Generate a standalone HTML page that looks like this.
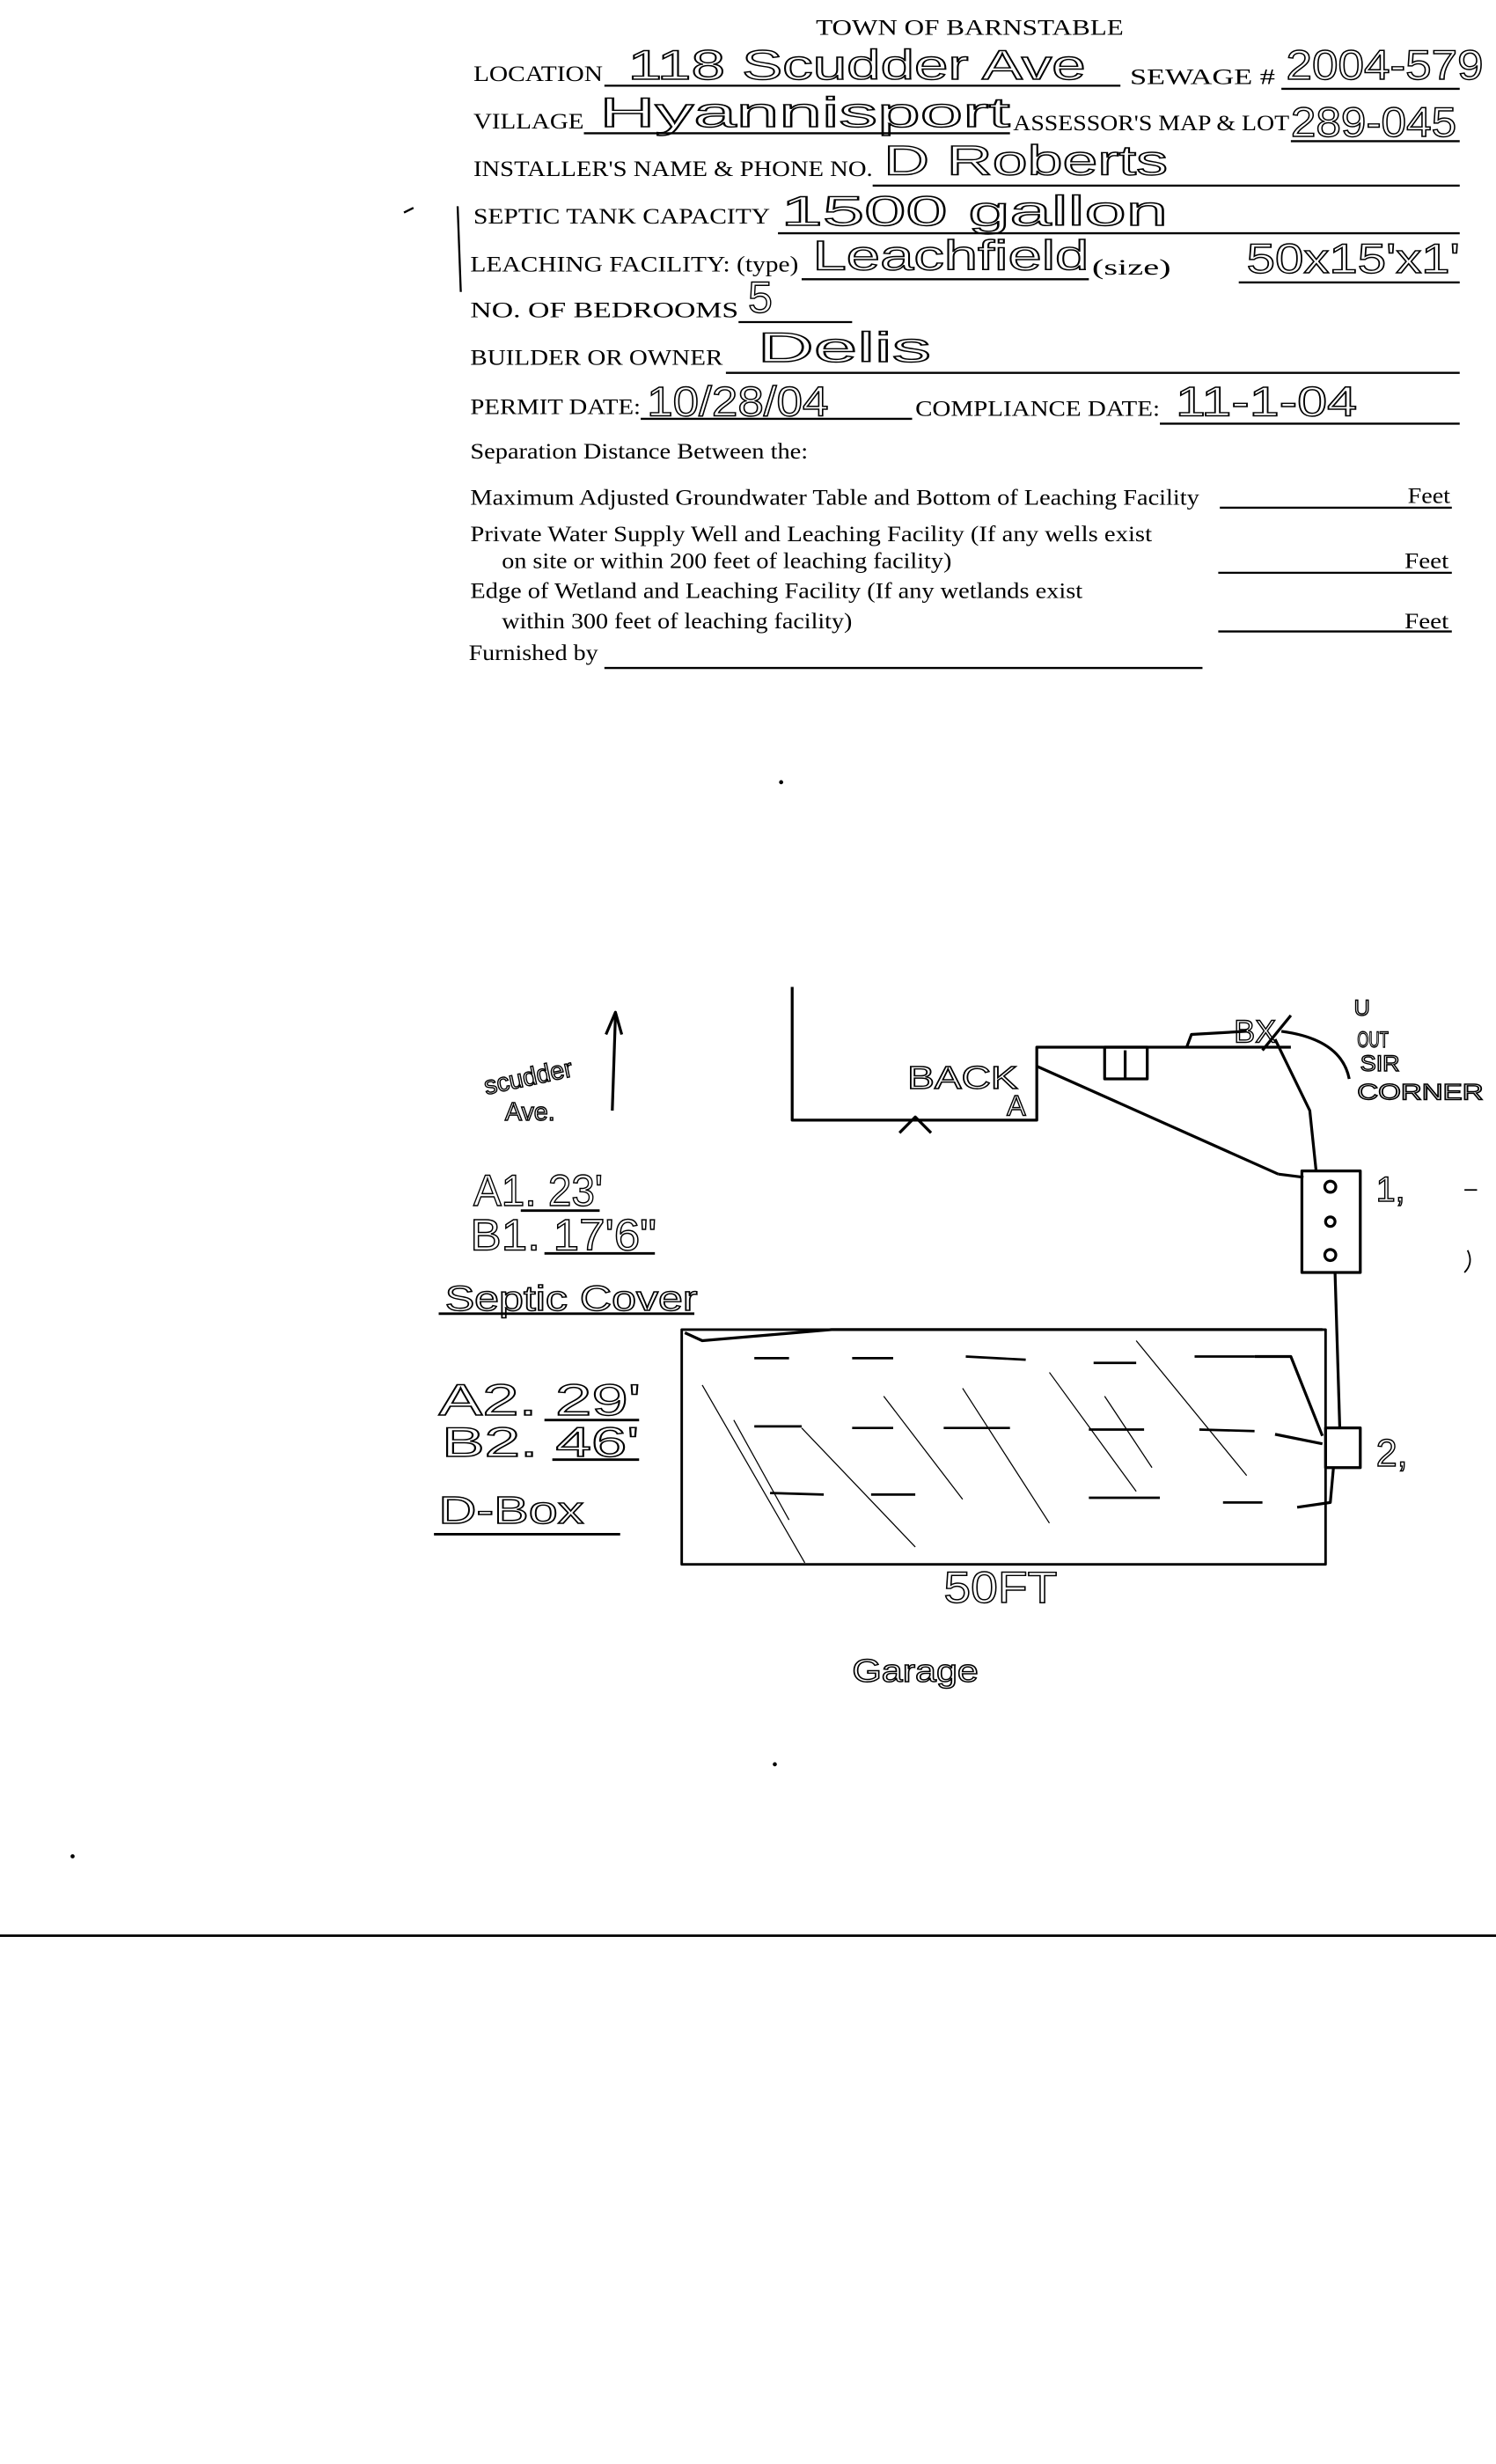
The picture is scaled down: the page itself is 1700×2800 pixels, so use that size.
<!DOCTYPE html>
<html><head><meta charset="utf-8"><style>
html,body{margin:0;padding:0;background:#fff;}
svg{display:block;}
.p{font-family:"Liberation Serif",serif;font-size:14px;fill:#000;}
.h{font-family:"Liberation Sans",sans-serif;fill:none;stroke:#000;stroke-width:0.8;font-size:26px;}
line,polyline,path,rect,circle{stroke:#000;fill:none;}
</style></head><body>
<svg width="1700" height="2800" viewBox="0 0 948 1553" preserveAspectRatio="none" xmlns="http://www.w3.org/2000/svg">
<rect x="0" y="0" width="948" height="1553" style="fill:#fff;stroke:none"/>
<g stroke-width="1.3">
<text class="p" x="517" y="22" textLength="195" lengthAdjust="spacingAndGlyphs">TOWN OF BARNSTABLE</text>
<text class="p" x="300" y="51" textLength="82" lengthAdjust="spacingAndGlyphs">LOCATION</text>
<line x1="383" y1="54" x2="710" y2="54"/>
<text class="h" x="398" y="50" textLength="290" lengthAdjust="spacingAndGlyphs">118 Scudder Ave</text>
<text class="p" x="716" y="53" textLength="92" lengthAdjust="spacingAndGlyphs">SEWAGE #</text>
<line x1="812" y1="56" x2="925" y2="56"/>
<text class="h" x="815" y="50" textLength="125" lengthAdjust="spacingAndGlyphs">2004-579</text>
<text class="p" x="300" y="81" textLength="70" lengthAdjust="spacingAndGlyphs">VILLAGE</text>
<line x1="370" y1="84" x2="640" y2="84"/>
<text class="h" x="380" y="80" textLength="260" lengthAdjust="spacingAndGlyphs">Hyannisport</text>
<text class="p" x="642" y="82" textLength="175" lengthAdjust="spacingAndGlyphs">ASSESSOR'S MAP &amp; LOT</text>
<line x1="818" y1="89" x2="925" y2="89"/>
<text class="h" x="818" y="86" textLength="105" lengthAdjust="spacingAndGlyphs">289-045</text>
<text class="p" x="300" y="111" textLength="253" lengthAdjust="spacingAndGlyphs">INSTALLER'S NAME &amp; PHONE NO.</text>
<line x1="553" y1="117" x2="925" y2="117"/>
<text class="h" x="560" y="110" textLength="180" lengthAdjust="spacingAndGlyphs">D Roberts</text>
<text class="p" x="300" y="141" textLength="188" lengthAdjust="spacingAndGlyphs">SEPTIC TANK CAPACITY</text>
<line x1="493" y1="147" x2="925" y2="147"/>
<text class="h" x="495" y="142" textLength="245" lengthAdjust="spacingAndGlyphs">1500 gallon</text>
<line x1="256" y1="134" x2="262" y2="131"/>
<line x1="290" y1="130" x2="292" y2="184"/>
<text class="p" x="298" y="171" textLength="208" lengthAdjust="spacingAndGlyphs">LEACHING FACILITY: (type)</text>
<line x1="508" y1="176" x2="690" y2="176"/>
<text class="h" x="515" y="170" textLength="175" lengthAdjust="spacingAndGlyphs">Leachfield</text>
<text class="p" x="692" y="173" textLength="50" lengthAdjust="spacingAndGlyphs">(size)</text>
<line x1="785" y1="178" x2="925" y2="178"/>
<text class="h" x="790" y="172" textLength="135" lengthAdjust="spacingAndGlyphs">50x15'x1'</text>
<text class="p" x="298" y="200" textLength="170" lengthAdjust="spacingAndGlyphs">NO. OF BEDROOMS</text>
<line x1="468" y1="203" x2="540" y2="203"/>
<text class="h" x="474" y="197" style="font-size:28px">5</text>
<text class="p" x="298" y="230" textLength="160" lengthAdjust="spacingAndGlyphs">BUILDER OR OWNER</text>
<line x1="460" y1="235" x2="925" y2="235"/>
<text class="h" x="480" y="228" textLength="110" lengthAdjust="spacingAndGlyphs">Delis</text>
<text class="p" x="298" y="261" textLength="108" lengthAdjust="spacingAndGlyphs">PERMIT DATE:</text>
<line x1="406" y1="264" x2="578" y2="264"/>
<text class="h" x="410" y="262" textLength="115" lengthAdjust="spacingAndGlyphs">10/28/04</text>
<text class="p" x="580" y="262" textLength="155" lengthAdjust="spacingAndGlyphs">COMPLIANCE DATE:</text>
<line x1="735" y1="267" x2="925" y2="267"/>
<text class="h" x="745" y="262" textLength="115" lengthAdjust="spacingAndGlyphs">11-1-04</text>
<text class="p" x="298" y="289" textLength="214" lengthAdjust="spacingAndGlyphs">Separation Distance Between the:</text>
<text class="p" x="298" y="318" textLength="462" lengthAdjust="spacingAndGlyphs">Maximum Adjusted Groundwater Table and Bottom of Leaching Facility</text>
<line x1="773" y1="320" x2="920" y2="320"/>
<text class="p" x="892" y="317" textLength="27" lengthAdjust="spacingAndGlyphs">Feet</text>
<text class="p" x="298" y="341" textLength="432" lengthAdjust="spacingAndGlyphs">Private Water Supply Well and Leaching Facility  (If any wells exist</text>
<text class="p" x="318" y="358" textLength="285" lengthAdjust="spacingAndGlyphs">on site or within 200 feet of leaching facility)</text>
<line x1="772" y1="361" x2="920" y2="361"/>
<text class="p" x="890" y="358" textLength="28" lengthAdjust="spacingAndGlyphs">Feet</text>
<text class="p" x="298" y="377" textLength="388" lengthAdjust="spacingAndGlyphs">Edge of Wetland and Leaching Facility (If any wetlands exist</text>
<text class="p" x="318" y="396" textLength="222" lengthAdjust="spacingAndGlyphs">within 300 feet of leaching facility)</text>
<line x1="772" y1="398" x2="920" y2="398"/>
<text class="p" x="890" y="396" textLength="28" lengthAdjust="spacingAndGlyphs">Feet</text>
<text class="p" x="297" y="416" textLength="82" lengthAdjust="spacingAndGlyphs">Furnished by</text>
<line x1="383" y1="421" x2="762" y2="421"/>
</g>

<g stroke-width="1.8" stroke-linejoin="round">
<polyline points="502,622 502,706 657,706 657,660 818,660"/>
<polyline points="570,714 580,704 590,714"/>
<rect x="700" y="660" width="27" height="20"/>
<line x1="713" y1="662" x2="713" y2="680"/>
<polyline points="752,660 755,652 790,650"/>
<line x1="657" y1="672" x2="810" y2="740"/>
<line x1="810" y1="740" x2="826" y2="742"/>
<polyline points="808,655 830,700 834,738"/>
<line x1="800" y1="662" x2="818" y2="640"/>
<path d="M812,650 Q850,655 855,680"/>
<rect x="825" y="738" width="37" height="64"/>
<circle cx="843" cy="748" r="3.5"/><circle cx="843" cy="770" r="3"/><circle cx="843" cy="791" r="3.5"/>
<line x1="846" y1="802" x2="849" y2="900"/>
<rect x="840" y="900" width="22" height="25"/>
<rect x="432" y="838" width="408" height="148" stroke-width="1.6"/>
<polyline points="434,840 445,845 527,838 838,838"/>
<polyline points="795,855 818,855 838,905"/>
<polyline points="808,904 838,910"/>
<polyline points="845,925 843,947 822,950"/>
<g stroke-width="1.5">
<line x1="478" y1="856" x2="500" y2="856"/><line x1="540" y1="856" x2="566" y2="856"/><line x1="612" y1="855" x2="650" y2="857"/><line x1="693" y1="859" x2="720" y2="859"/><line x1="757" y1="855" x2="795" y2="855"/>
<line x1="478" y1="899" x2="508" y2="899"/><line x1="540" y1="900" x2="566" y2="900"/><line x1="598" y1="900" x2="640" y2="900"/><line x1="690" y1="901" x2="725" y2="901"/><line x1="760" y1="901" x2="795" y2="902"/>
<line x1="488" y1="941" x2="522" y2="942"/><line x1="552" y1="942" x2="580" y2="942"/><line x1="690" y1="944" x2="735" y2="944"/><line x1="775" y1="947" x2="800" y2="947"/>
</g>
<g stroke-width="0.7">
<line x1="445" y1="873" x2="510" y2="985"/><line x1="465" y1="895" x2="500" y2="958"/><line x1="508" y1="900" x2="580" y2="975"/><line x1="560" y1="880" x2="610" y2="945"/><line x1="610" y1="875" x2="665" y2="960"/><line x1="665" y1="865" x2="720" y2="940"/><line x1="700" y1="880" x2="730" y2="925"/><line x1="720" y1="845" x2="790" y2="930"/>
</g>
<line x1="0" y1="1220" x2="948" y2="1220" stroke-width="1.5"/>
<line x1="388" y1="700" x2="390" y2="640"/><polyline points="384,652 390,638 394,652"/>
</g>
<g stroke-width="1.6">
<line x1="330" y1="763" x2="380" y2="763"/>
<line x1="345" y1="790" x2="415" y2="790"/>
<line x1="278" y1="828" x2="440" y2="828"/>
<line x1="345" y1="895" x2="405" y2="895"/>
<line x1="350" y1="920" x2="405" y2="920"/>
<line x1="275" y1="967" x2="393" y2="967"/>
</g>
<text class="h" x="575" y="686" style="font-size:20px" textLength="70" lengthAdjust="spacingAndGlyphs">BACK</text>
<text class="h" x="638" y="703" style="font-size:18px">A</text>
<text class="h" x="782" y="657" style="font-size:20px">BX</text>
<text class="h" x="858" y="640" style="font-size:14px">U</text>
<text class="h" x="860" y="660" style="font-size:14px" textLength="20" lengthAdjust="spacingAndGlyphs">OUT</text>
<text class="h" x="862" y="675" style="font-size:14px" textLength="25" lengthAdjust="spacingAndGlyphs">SIR</text>
<text class="h" x="860" y="693" style="font-size:14px" textLength="80" lengthAdjust="spacingAndGlyphs">CORNER</text>
<text class="h" x="872" y="757" style="font-size:22px">1,</text>
<text class="h" x="872" y="924" style="font-size:24px">2,</text>
<text class="h" x="308" y="690" style="font-size:16px" transform="rotate(-12 308 690)">scudder</text>
<text class="h" x="320" y="706" style="font-size:16px">Ave.</text>
<text class="h" x="300" y="760" style="font-size:28px" textLength="82" lengthAdjust="spacingAndGlyphs">A1. 23'</text>
<text class="h" x="298" y="788" style="font-size:28px" textLength="118" lengthAdjust="spacingAndGlyphs">B1. 17'6"</text>
<text class="h" x="282" y="826" style="font-size:22px" textLength="160" lengthAdjust="spacingAndGlyphs">Septic Cover</text>
<text class="h" x="278" y="892" style="font-size:28px" textLength="128" lengthAdjust="spacingAndGlyphs">A2. 29'</text>
<text class="h" x="280" y="918" style="font-size:26px" textLength="125" lengthAdjust="spacingAndGlyphs">B2. 46'</text>
<text class="h" x="278" y="960" style="font-size:24px" textLength="92" lengthAdjust="spacingAndGlyphs">D-Box</text>
<text class="h" x="598" y="1010" style="font-size:28px" textLength="72" lengthAdjust="spacingAndGlyphs">50FT</text>
<text class="h" x="540" y="1060" style="font-size:20px" textLength="80" lengthAdjust="spacingAndGlyphs">Garage</text>
<circle cx="495" cy="493" r="0.8" style="fill:#000"/>
<circle cx="491" cy="1112" r="0.8" style="fill:#000"/>
<circle cx="46" cy="1170" r="0.8" style="fill:#000"/>
<line x1="928" y1="750" x2="936" y2="750" stroke-width="1"/>
<path d="M930,788 Q934,796 928,802" stroke-width="1"/>
</svg>
</body></html>
